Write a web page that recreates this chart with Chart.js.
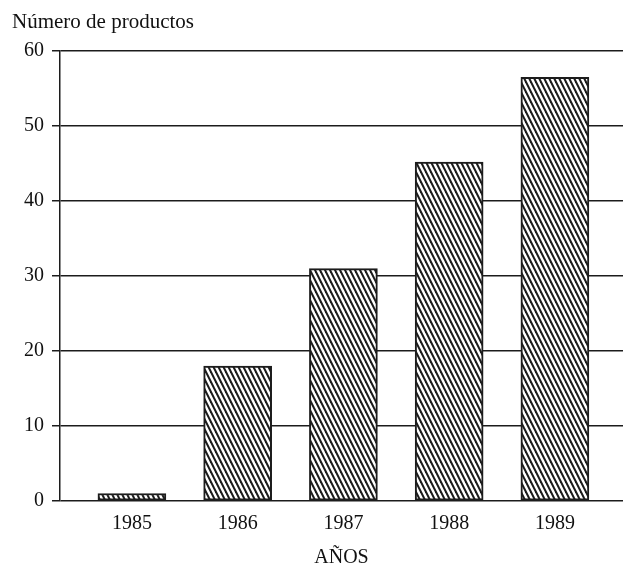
<!DOCTYPE html>
<html>
<head>
<meta charset="utf-8">
<script src="https://cdn.jsdelivr.net/npm/chart.js@4/dist/chart.umd.min.js"></script>
<style>
  html, body { margin: 0; padding: 0; background: #fff; }
  #wrap { width: 623px; height: 565px; position: relative; }
</style>
</head>
<body>
<div id="wrap"><canvas id="c" width="623" height="565"></canvas></div>
<script>
// ---- data ----
const years = [1985, 1986, 1987, 1988, 1989];
const productCounts = [1, 18, 31, 45.2, 56.5];
const yTicks = [0, 10, 20, 30, 40, 50, 60];
const titleText = 'Número de productos';
const xAxisTitle = 'AÑOS';

// ---- hatch pattern ----
function makeHatch() {
  const w = 5, h = 10;
  const pc = document.createElement('canvas');
  pc.width = w; pc.height = h;
  const g = pc.getContext('2d');
  g.fillStyle = '#fff';
  g.fillRect(0, 0, w, h);
  g.strokeStyle = '#1a1a1a';
  g.lineWidth = 2;
  g.lineCap = 'square';
  [-w, 0, w].forEach(off => {
    g.beginPath();
    g.moveTo(off, 0);
    g.lineTo(off + w, h);
    g.stroke();
  });
  return g.createPattern(pc, 'repeat');
}

const ink = '#1c1c1c';
const textInk = '#111';
const serif = "'Liberation Serif', 'DejaVu Serif', serif";

new Chart(document.getElementById('c'), {
  type: 'bar',
  data: {
    datasets: [{
      data: years.map((y, i) => ({ x: y, y: productCounts[i] })),
      backgroundColor: makeHatch(),
      borderColor: ink,
      borderWidth: 2,
      borderSkipped: false,
      barThickness: 68
    }]
  },
  options: {
    responsive: false,
    animation: false,
    layout: { padding: { left: 12, right: 0, top: 10, bottom: 0 } },
    plugins: {
      legend: { display: false },
      tooltip: { enabled: false },
      title: {
        display: true,
        text: titleText,
        align: 'start',
        color: textInk,
        font: { family: serif, size: 21, weight: 'normal', lineHeight: 1.2 },
        padding: { top: 0, bottom: 16 }
      }
    },
    scales: {
      x: {
        type: 'linear',
        min: 1984.32,
        max: 1989.644,
        offset: false,
        grid: { display: false, offset: false },
        border: { display: false },
        afterBuildTicks: s => { s.ticks = years.map(v => ({ value: v })); },
        afterFit: s => { s.height = 64; },
        ticks: {
          color: textInk,
          padding: 3,
          font: { family: serif, size: 20 },
          callback: v => String(v)
        },
        title: {
          display: true,
          text: xAxisTitle,
          color: textInk,
          font: { family: serif, size: 20, lineHeight: 1.2 },
          padding: { top: 0, bottom: -5 }
        }
      },
      y: {
        min: 0,
        max: 60,
        afterBuildTicks: s => { s.ticks = yTicks.map(v => ({ value: v })); },
        afterFit: s => { s.width = 48; },
        grid: { color: ink, lineWidth: 1.5, tickLength: 8, drawTicks: true },
        border: { display: true, color: ink, width: 1.5 },
        ticks: {
          color: textInk,
          padding: 8,
          font: { family: serif, size: 20 }
        }
      }
    }
  }
});
</script>
</body>
</html>
